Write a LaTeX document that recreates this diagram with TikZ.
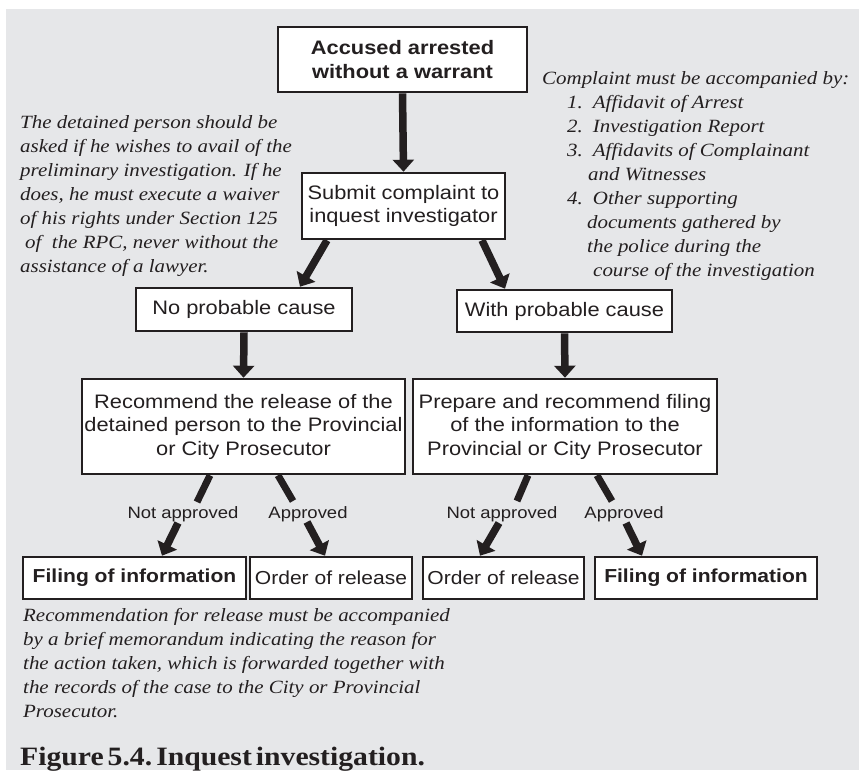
\documentclass[tikz,border=0pt]{standalone}
\usepackage{fontspec}
\setmainfont{Liberation Serif}[FakeStretch=1.12]
\setsansfont{Liberation Sans}[FakeStretch=1.12]
\usetikzlibrary{arrows.meta}
\definecolor{bg}{RGB}{230,231,233}
\definecolor{ink}{RGB}{35,31,32}
\tikzset{
 box/.style={draw=ink, line width=2.6pt, fill=white, inner sep=0pt, align=center, text=ink, font=\sffamily\fontsize{19.5}{23.5}\selectfont},
 boldbox/.style={box, font=\sffamily\bfseries\fontsize{19.5}{23.5}\selectfont},
 endbox/.style={box, minimum height=42pt, font=\sffamily\fontsize{18.8}{22}\selectfont},
 endbold/.style={box, minimum height=42pt, font=\sffamily\bfseries\fontsize{18.8}{22}\selectfont},
 flow/.style={draw=ink, line width=7.5pt, -{Triangle[width=21pt,length=12pt]}},
 seg/.style={draw=ink, line width=7pt},
 lbl/.style={text=ink, inner sep=0pt, anchor=base, font=\sffamily\fontsize{16.5}{19}\selectfont},
 note/.style={text=ink, inner sep=0pt, align=left, anchor=north west, font=\rmfamily\itshape\fontsize{18.7}{24}\selectfont},
}
\begin{document}
\begin{tikzpicture}[x=1pt,y=-1pt]
\useasboundingbox (0,0) rectangle (859,777);
\fill[bg] (6,9) rectangle (859,770);

% flow boxes
\node[boldbox, minimum width=249pt, minimum height=65pt] (acc) at (402.5,59.5) {Accused arrested\\without a warrant};
\node[box, minimum width=203pt, minimum height=66pt] (sub) at (403.5,206) {Submit complaint to\\inquest investigator};
\node[box, minimum width=216pt, minimum height=43pt] (nop) at (244,309.5) {No probable cause};
\node[box, minimum width=215pt, minimum height=42pt] (wip) at (564.5,311) {With probable cause};
\node[box, minimum width=323pt, minimum height=95pt] (rec) at (243.5,426.5) {Recommend the release of the\\detained person to the Provincial\\or City Prosecutor};
\node[box, minimum width=304pt, minimum height=95pt] (pre) at (565,426.5) {Prepare and recommend filing\\of the information to the\\Provincial or City Prosecutor};
\node[endbold, minimum width=223pt] (fil1) at (134.5,578) {Filing of information};
\node[endbox, minimum width=162pt] (ord1) at (331,578) {Order of release};
\node[endbox, minimum width=161pt] (ord2) at (503.5,578) {Order of release};
\node[endbold, minimum width=222pt] (fil2) at (706,578) {Filing of information};

% labels
\node[lbl] (na1) at (183,518) {Not approved};
\node[lbl] (ap1) at (308,518) {Approved};
\node[lbl] (na2) at (502,518) {Not approved};
\node[lbl] (ap2) at (624,518) {Approved};

% free ends of the segments above the labels / starts below labels
\coordinate (na1t) at (197,502);
\coordinate (na1b) at (178,523);
\coordinate (ap1t) at (293,501);
\coordinate (ap1b) at (307,522);
\coordinate (na2t) at (517,501);
\coordinate (na2b) at (499,523);
\coordinate (ap2t) at (612,501);
\coordinate (ap2b) at (626,523);

% connectors
\draw[flow] (acc.south) -- (sub.north);
\draw[flow] ([xshift=-76.5pt]sub.south) -- ([xshift=56pt]nop.north);
\draw[flow] ([xshift=78.5pt]sub.south) -- ([xshift=-59.5pt]wip.north);
\draw[flow] (nop.south) -- (rec.north);
\draw[flow] (wip.south) -- (pre.north);

\draw[seg] ([xshift=-33.5pt]rec.south) -- (na1t);
\draw[flow] (na1b) -- ([xshift=27.5pt]fil1.north);
\draw[seg] ([xshift=34.5pt]rec.south) -- (ap1t);
\draw[flow] (ap1b) -- ([xshift=-6pt]ord1.north);
\draw[seg] ([xshift=-37pt]pre.south) -- (na2t);
\draw[flow] (na2b) -- ([xshift=-23.5pt]ord2.north);
\draw[seg] ([xshift=32pt]pre.south) -- (ap2t);
\draw[flow] (ap2b) -- ([xshift=-64pt]fil2.north);

% notes
\node[note] (lnote) at (20,115) {The detained person should be\\asked if he wishes to avail of the\\preliminary investigation. If he\\does, he must execute a waiver\\of his rights under Section 125\\\hspace*{5pt}of\ \ the RPC, never without the\\assistance of a lawyer.};
\node[note] (rnote) at (542,71) {Complaint must be accompanied by:\\
\hspace*{25pt}1.\hspace{10pt}Affidavit of Arrest\\
\hspace*{25pt}2.\hspace{10pt}Investigation Report\\
\hspace*{25pt}3.\hspace{10pt}Affidavits of Complainant\\
\hspace*{46pt}and Witnesses\\
\hspace*{25pt}4.\hspace{10pt}Other supporting\\
\hspace*{45pt}documents gathered by\\
\hspace*{45pt}the police during the\\
\hspace*{51pt}course of the investigation};
\node[note] (bnote) at (23,608) {Recommendation for release must be accompanied\\by a brief memorandum indicating the reason for\\the action taken, which is forwarded together with\\the records of the case to the City or Provincial\\Prosecutor.};
\node[text=ink, inner sep=0pt, anchor=base west, font=\rmfamily\bfseries\fontsize{26.5}{30}\selectfont] (cap) at (20,765) {Figure\hspace{4pt}5.4.\hspace{4pt}Inquest\hspace{4pt}investigation.};
\end{tikzpicture}
\end{document}
